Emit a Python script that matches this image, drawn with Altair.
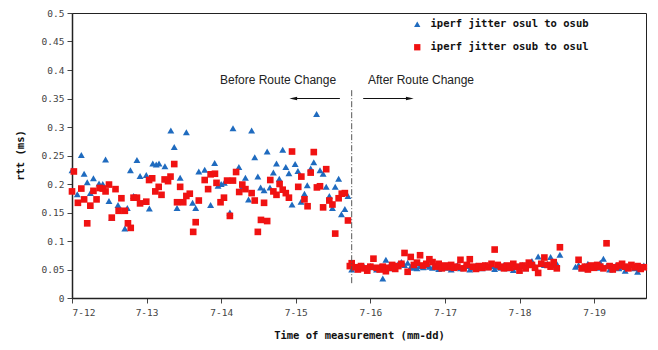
import altair as alt
import pandas as pd

# ---- data: hours since 7-12 00:00, jitter (ms) ----
blue_before_h = [0, 1.7, 3.0, 3.9, 4.9, 5.9, 6.9, 8.7, 9.9, 10.8, 11.9, 12.8, 14.8, 17.0, 17.8, 18.8, 19.8, 20.9, 21.9, 23.9,
                 24.9, 26.0, 27.1, 28.0, 29.9, 31.8, 32.9, 33.8, 34.8, 36.8, 38.8, 39.8, 40.8, 42.7, 44.6, 45.9, 47.0, 48.0, 49.0, 50.8,
                 51.8, 53.7, 54.8, 55.8, 56.8, 57.8, 58.8, 59.8, 60.7, 61.8, 62.8, 63.7, 64.8, 65.8, 66.7, 67.8, 68.8, 69.8, 70.8, 71.8,
                 72.7, 73.7, 74.8, 75.7, 76.8, 77.8, 78.7, 79.8, 80.8, 81.8, 82.8, 83.8, 84.7, 85.8, 86.7, 87.8, 88.8]
blue_before_v = [0.224, 0.182, 0.251, 0.218, 0.203, 0.184, 0.21, 0.201, 0.2, 0.243, 0.17, 0.141, 0.163, 0.122, 0.158, 0.224, 0.179, 0.242, 0.214, 0.216,
                 0.157, 0.236, 0.234, 0.236, 0.231, 0.294, 0.265, 0.158, 0.211, 0.291, 0.167, 0.158, 0.222, 0.225, 0.163, 0.237, 0.197, 0.2, 0.202, 0.15,
                 0.298, 0.23, 0.195, 0.211, 0.173, 0.294, 0.247, 0.213, 0.194, 0.189, 0.257, 0.194, 0.22, 0.236, 0.209, 0.26, 0.23, 0.219, 0.164, 0.235,
                 0.223, 0.169, 0.183, 0.198, 0.227, 0.238, 0.323, 0.224, 0.218, 0.195, 0.179, 0.158, 0.195, 0.209, 0.147, 0.156, 0.179]

red_before_h = [0, 0.6, 1.9, 3.0, 3.9, 4.9, 5.9, 6.9, 7.9, 8.9, 9.9, 10.8, 11.9, 12.8, 14.0, 15.0, 15.9, 17.0, 18.0, 18.9,
                19.8, 20.9, 21.9, 23.9, 24.8, 25.8, 26.8, 27.9, 28.8, 29.8, 30.9, 31.7, 32.9, 33.8, 34.8, 35.8, 36.8, 37.9, 39.0, 39.8,
                40.8, 42.7, 43.8, 44.6, 46.0, 46.5, 47.8, 48.9, 49.9, 50.8, 51.8, 52.8, 53.8, 54.8, 55.8, 57.8, 58.8, 59.8, 60.8, 61.8,
                62.8, 63.8, 64.8, 65.8, 66.8, 67.8, 68.8, 69.8, 70.8, 72.8, 73.8, 74.8, 75.8, 76.8, 77.8, 78.8, 79.8, 80.8, 81.8, 82.8,
                83.8, 84.7, 85.8, 86.8, 87.8, 88.8]
red_before_v = [0.187, 0.222, 0.167, 0.192, 0.173, 0.131, 0.162, 0.188, 0.173, 0.193, 0.192, 0.187, 0.199, 0.141, 0.191, 0.153, 0.175, 0.153, 0.131, 0.123,
                0.176, 0.176, 0.166, 0.169, 0.207, 0.21, 0.187, 0.195, 0.181, 0.208, 0.205, 0.213, 0.235, 0.168, 0.195, 0.168, 0.179, 0.183, 0.116, 0.133,
                0.171, 0.207, 0.191, 0.217, 0.218, 0.202, 0.168, 0.176, 0.206, 0.144, 0.206, 0.221, 0.186, 0.199, 0.191, 0.184, 0.171, 0.116, 0.137, 0.167,
                0.135, 0.207, 0.187, 0.181, 0.2, 0.19, 0.184, 0.176, 0.257, 0.195, 0.213, 0.173, 0.161, 0.22, 0.256, 0.194, 0.196, 0.159, 0.226, 0.171,
                0.164, 0.113, 0.175, 0.183, 0.184, 0.136]

blue_after_h = [90, 91, 92, 93, 94, 95, 96, 97, 98, 99, 100, 101, 102, 103, 104, 105, 106, 107, 108, 109,
                110, 111, 112, 113, 114, 115, 116, 117, 118, 119, 120, 121, 122, 123, 124, 125, 126, 127, 128, 129,
                130, 131, 132, 133, 134, 135, 136, 137, 138, 139, 140, 141, 142, 143, 144, 145, 146, 147, 148, 149,
                150, 151, 152, 153, 154, 155, 156, 157, 162, 163, 164, 165, 166, 167, 168, 169, 170, 171, 172, 173,
                174, 175, 176, 177, 178, 179, 180, 181, 182, 183, 184]
blue_after_v = [0.050, 0.055, 0.053, 0.057, 0.055, 0.052, 0.056, 0.054, 0.050, 0.055, 0.034, 0.067, 0.055, 0.052, 0.057, 0.060, 0.063, 0.058, 0.062, 0.055,
                0.053, 0.052, 0.056, 0.054, 0.058, 0.055, 0.053, 0.056, 0.051, 0.054, 0.057, 0.053, 0.050, 0.055, 0.058, 0.052, 0.054, 0.056, 0.050, 0.053,
                0.057, 0.055, 0.052, 0.058, 0.054, 0.056, 0.051, 0.055, 0.053, 0.058, 0.052, 0.055, 0.049, 0.054, 0.056, 0.058, 0.052, 0.060, 0.065, 0.055,
                0.073, 0.062, 0.058, 0.060, 0.072, 0.058, 0.060, 0.076, 0.055, 0.058, 0.052, 0.056, 0.060, 0.054, 0.057, 0.053, 0.062, 0.069, 0.056, 0.050,
                0.054, 0.057, 0.052, 0.055, 0.048, 0.054, 0.058, 0.052, 0.046, 0.055, 0.057]

red_after_h = [89.4, 90, 91, 92, 93, 94, 95, 96, 97, 98, 99, 100, 101, 102, 103, 104, 105, 106, 107, 108, 109,
               110, 111, 112, 113, 114, 115, 116, 117, 118, 119, 120, 121, 122, 123, 124, 125, 126, 127, 128, 129,
               130, 131, 132, 133, 134, 135, 136, 137, 138, 139, 140, 141, 142, 143, 144, 145, 146, 147, 148, 149,
               150, 151, 152, 153, 154, 155, 156, 157, 163, 164, 165, 166, 167, 168, 169, 170, 171, 172, 173,
               174, 175, 176, 177, 178, 179, 180, 181, 182, 183, 184]
red_after_v = [0.056, 0.061, 0.054, 0.050, 0.056, 0.052, 0.048, 0.055, 0.069, 0.053, 0.050, 0.055, 0.047, 0.053, 0.058, 0.051, 0.056, 0.060, 0.079, 0.046, 0.072,
               0.058, 0.062, 0.075, 0.057, 0.060, 0.068, 0.063, 0.055, 0.060, 0.052, 0.057, 0.054, 0.058, 0.053, 0.055, 0.067, 0.052, 0.058, 0.068, 0.055,
               0.051, 0.056, 0.053, 0.057, 0.054, 0.060, 0.085, 0.058, 0.055, 0.052, 0.057, 0.053, 0.060, 0.055, 0.048, 0.057, 0.052, 0.062, 0.058, 0.053,
               0.044, 0.060, 0.071, 0.058, 0.055, 0.063, 0.052, 0.089, 0.067, 0.052, 0.055, 0.050, 0.057, 0.053, 0.058, 0.055, 0.052, 0.096, 0.056,
               0.050, 0.054, 0.057, 0.060, 0.055, 0.052, 0.058, 0.054, 0.056, 0.051, 0.054]

series_names = ["iperf jitter osul to osub", "iperf jitter osub to osul"]
series_colors = ["#1f6bbf", "#f01212"]
series_shapes = ["triangle-up", "square"]

day_ticks = [0, 24, 48, 72, 96, 120, 144, 168]
y_ticks = [0, 0.05, 0.1, 0.15, 0.2, 0.25, 0.3, 0.35, 0.4, 0.45, 0.5]

# annotations
change_h = [90]
change_y = [0.026]
change_y2 = [0.368]
label_text = ["Before Route Change", "After Route Change"]
label_h = [66.3, 112.3]
label_y = [0.382, 0.382]
arrow_from = [86.2, 93.7]
arrow_to = [71.2, 108.7]
arrow_y = [0.35, 0.35]

blue = pd.DataFrame({"h": blue_before_h + blue_after_h, "v": blue_before_v + blue_after_v, "s": series_names[0]})
red = pd.DataFrame({"h": red_before_h + red_after_h, "v": red_before_v + red_after_v, "s": series_names[1]})

xscale = alt.Scale(domain=[0, 184.7], nice=False, zero=False)
yscale = alt.Scale(domain=[0, 0.5], nice=False)

mono = "DejaVu Sans Mono"

x_axis = alt.Axis(values=day_ticks, labelExpr="'7-' + (12 + datum.value/24)", title="Time of measurement (mm-dd)",
                  grid=False, tickSize=5, labelFont=mono, labelFontSize=9.5, labelColor="#444",
                  titleFont=mono, titleFontSize=10.5, titleFontWeight="bold", titleColor="#111", titlePadding=14,
                  domainColor="#222", domainWidth=1.5, tickColor="#444", labelPadding=4)
y_axis = alt.Axis(values=y_ticks, labelExpr="format(datum.value, '~g')", title="rtt (ms)", grid=False, tickSize=5,
                  labelOverlap=False, tickCount=11,
                  labelFont=mono, labelFontSize=9.5, labelColor="#444",
                  titleFont=mono, titleFontSize=10.5, titleFontWeight="bold", titleColor="#111",
                  titleX=-52, titleY=142, titleAngle=-90, titleBaseline="middle",
                  domainColor="#222", domainWidth=1.5, tickColor="#444", labelPadding=3)

X = lambda f: alt.X(f, scale=xscale, axis=x_axis)
Y = lambda f: alt.Y(f, scale=yscale, axis=y_axis)

color = alt.Color("s:N", scale=alt.Scale(domain=series_names, range=series_colors),
                  legend=alt.Legend(title=None, orient="none", legendX=340, legendY=6,
                                    labelFont=mono, labelFontSize=10.5, labelFontWeight="bold", labelColor="#111",
                                    symbolSize=40, rowPadding=12, labelOffset=8, padding=0))
shape = alt.Shape("s:N", scale=alt.Scale(domain=series_names, range=series_shapes), legend=None)

pts_blue = alt.Chart(blue).mark_point(filled=True, size=48, opacity=1).encode(
    x=X("h:Q"), y=Y("v:Q"), color=color, shape=shape)
pts_red = alt.Chart(red).mark_point(filled=True, size=44, opacity=1).encode(
    x=X("h:Q"), y=Y("v:Q"), color=color, shape=shape)

rule_df = pd.DataFrame({"h": change_h, "y": change_y, "y2": change_y2})
rule = alt.Chart(rule_df).mark_rule(color="#555", strokeDash=[6, 2, 1, 2], strokeWidth=1).encode(
    x=X("h:Q"), y=Y("y:Q"), y2="y2:Q")

lab_df = pd.DataFrame({"h": label_h, "y": label_y, "t": label_text})
labels = alt.Chart(lab_df).mark_text(font="Liberation Sans", fontSize=12, color="#222").encode(
    x=X("h:Q"), y=Y("y:Q"), text="t:N")

arr_df = pd.DataFrame({"a": arrow_from, "b": arrow_to, "y": arrow_y, "dir": ["l", "r"]})
arr_lines = alt.Chart(arr_df).mark_rule(color="#111", strokeWidth=1).encode(
    x=X("a:Q"), x2="b:Q", y=Y("y:Q"))
head_l = alt.Chart(arr_df[arr_df["dir"] == "l"]).mark_point(
    shape="M-1,0L1,-0.45L1,0.45Z", filled=True, size=60, color="#111", opacity=1).encode(
    x=X("b:Q"), y=Y("y:Q"))
head_r = alt.Chart(arr_df[arr_df["dir"] == "r"]).mark_point(
    shape="M1,0L-1,-0.45L-1,0.45Z", filled=True, size=60, color="#111", opacity=1).encode(
    x=X("b:Q"), y=Y("y:Q"))

chart = alt.layer(pts_blue, pts_red, rule, labels, arr_lines, head_l, head_r).properties(
    width=574, height=285,
    autosize=alt.AutoSizeParams(type="none"),
    padding={"left": 64, "top": 5, "right": 4, "bottom": 43},
    background="white",
).configure_view(stroke="#222", strokeWidth=1)

chart.save("out.html", embed_options={"renderer": "svg", "actions": False})
